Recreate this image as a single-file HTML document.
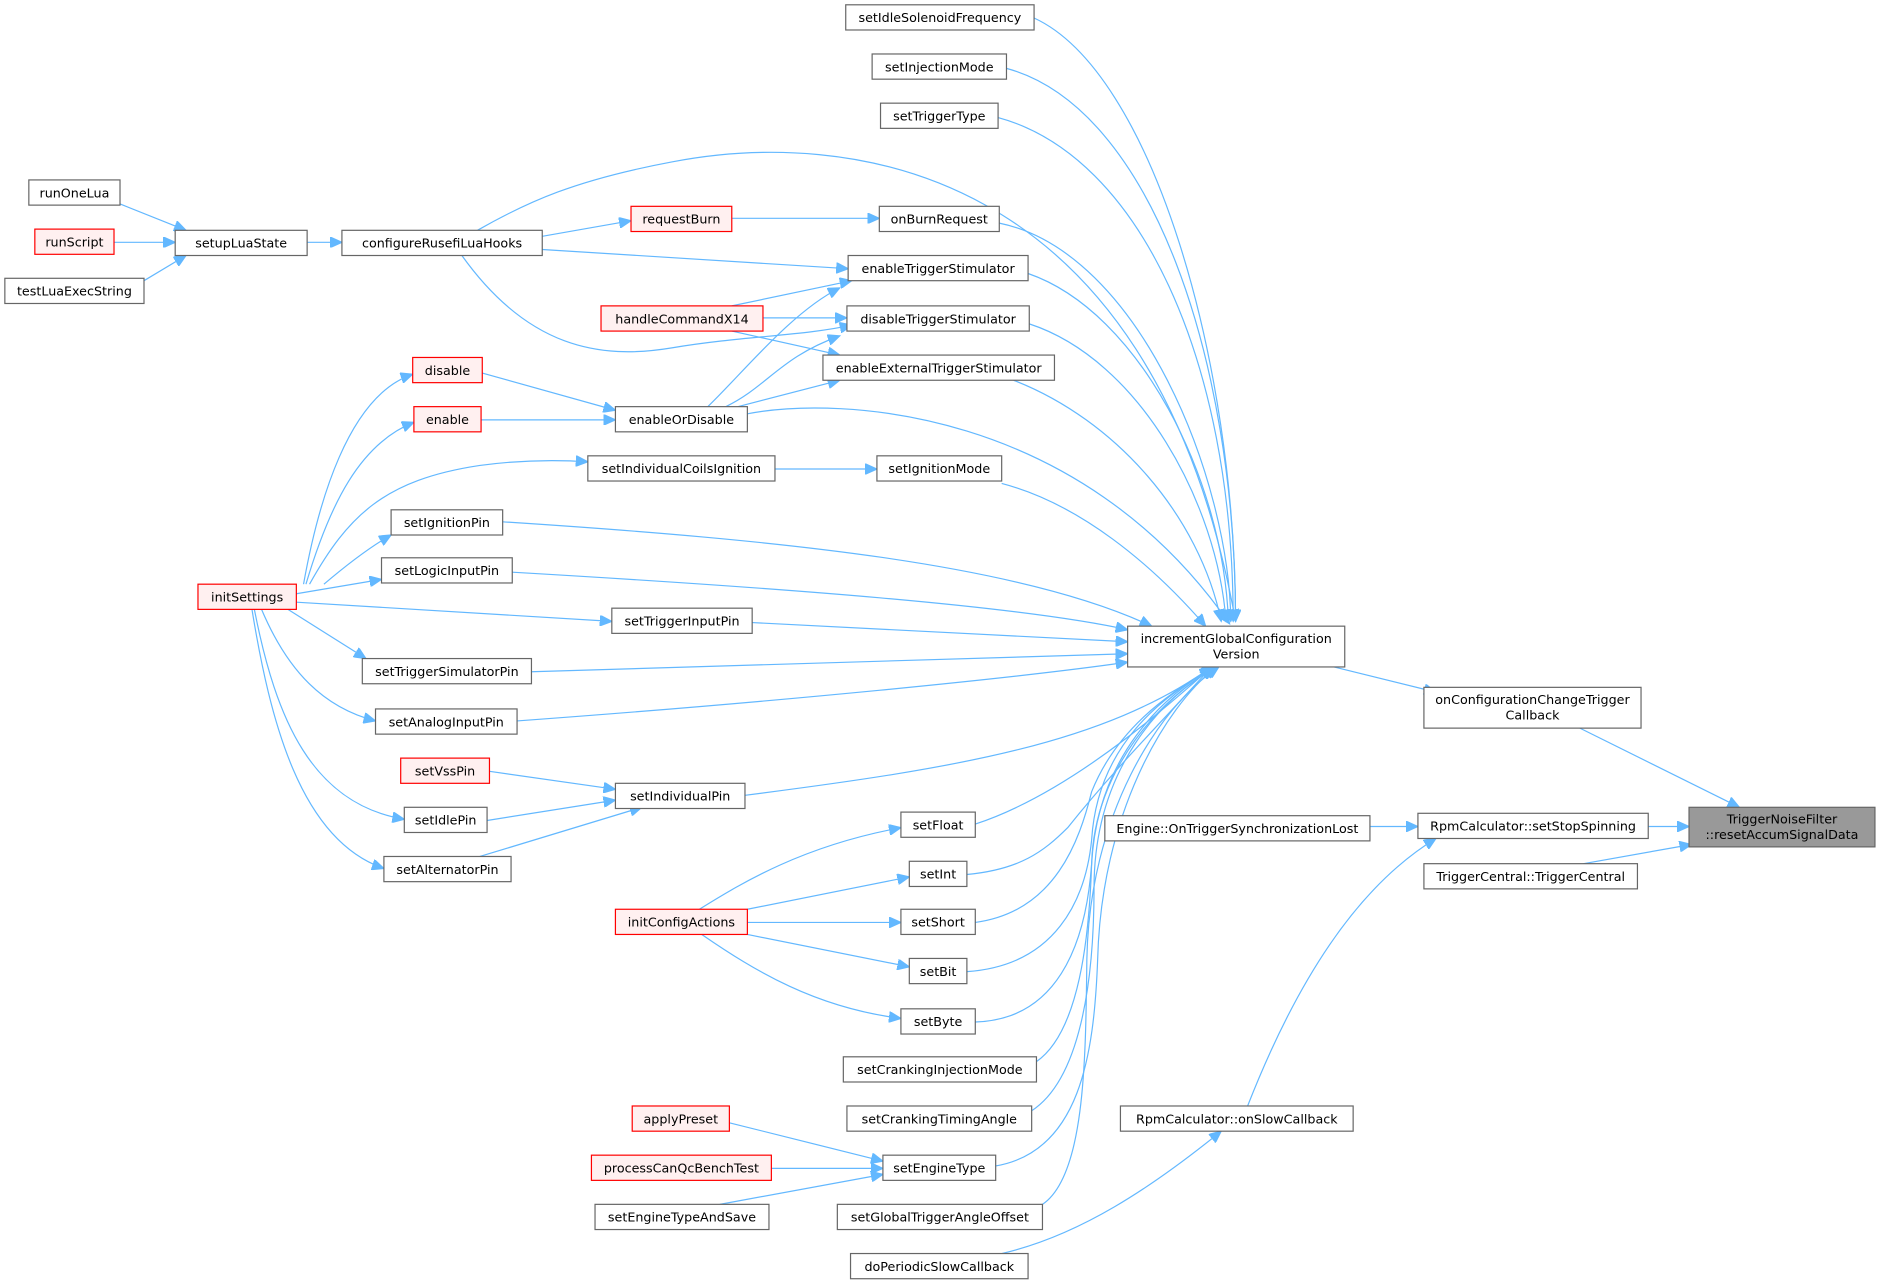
<!DOCTYPE html>
<html><head><meta charset="utf-8"><style>
html,body{margin:0;padding:0;background:#fff;}
svg{display:block}
text{font-family:"DejaVu Sans","Liberation Sans",sans-serif;font-size:10.6px;fill:#000;}
.n{fill:#fff;stroke:#666;stroke-width:1}
.r{fill:#fff0f0;stroke:#f00;stroke-width:1}
.g{fill:#999;stroke:#666;stroke-width:1}
.e{fill:none;stroke:#63b8ff;stroke-width:1}
</style></head><body>
<svg width="1881" height="1287" viewBox="0 0 1568 1072.9" xmlns="http://www.w3.org/2000/svg">
<defs><marker id="a" markerUnits="userSpaceOnUse" markerWidth="11" markerHeight="9" refX="10" refY="4.5" orient="auto"><path d="M0,0 L10,4.5 L0,9 Z" fill="#63b8ff" stroke="#63b8ff"/></marker></defs>
<g class="edges">
<path class="e" marker-end="url(#a)" d="M100,170 L155,192"/>
<path class="e" marker-end="url(#a)" d="M95,202 L146,202"/>
<path class="e" marker-end="url(#a)" d="M120,234 L155,213"/>
<path class="e" marker-end="url(#a)" d="M256,202 L285,202"/>
<path class="e" marker-end="url(#a)" d="M452,197 L526,184"/>
<path class="e" marker-end="url(#a)" d="M452,208 L707,224"/>
<path class="e" marker-end="url(#a)" d="M398,192 C440,168 480,150 560,135 C700,108 960,130 1030,518"/>
<path class="e" marker-end="url(#a)" d="M385,213 C440,290 500,300 560,290 C620,280 670,280 710,271"/>
<path class="e" marker-end="url(#a)" d="M610,182 L733,182"/>
<path class="e" marker-end="url(#a)" d="M610,255 L710,234"/>
<path class="e" marker-end="url(#a)" d="M636,265 L706,265"/>
<path class="e" marker-end="url(#a)" d="M610,276 L700,296"/>
<path class="e" marker-end="url(#a)" d="M590,339 C620,310 660,260 700,240"/>
<path class="e" marker-end="url(#a)" d="M605,339 C640,322 650,298 700,280"/>
<path class="e" marker-end="url(#a)" d="M615,339 L700,317"/>
<path class="e" marker-end="url(#a)" d="M623,345 C700,330 900,340 1025,520"/>
<path class="e" marker-end="url(#a)" d="M402,311 L513,342"/>
<path class="e" marker-end="url(#a)" d="M401,350 L513,350"/>
<path class="e" marker-end="url(#a)" d="M253,487 C265,420 290,330 344,312"/>
<path class="e" marker-end="url(#a)" d="M255,487 C275,420 300,370 345,352"/>
<path class="e" marker-end="url(#a)" d="M258,487 C290,430 320,400 400,388 C430,384 460,383 490,385"/>
<path class="e" marker-end="url(#a)" d="M270,487 C290,470 310,455 326,446"/>
<path class="e" marker-end="url(#a)" d="M247,495 L318,483"/>
<path class="e" marker-end="url(#a)" d="M247,502 L510,518"/>
<path class="e" marker-end="url(#a)" d="M240,508 L305,549"/>
<path class="e" marker-end="url(#a)" d="M218,508 C240,560 270,590 313,601"/>
<path class="e" marker-end="url(#a)" d="M212,508 C230,600 260,670 337,683"/>
<path class="e" marker-end="url(#a)" d="M210,508 C225,600 250,700 320,724"/>
<path class="e" marker-end="url(#a)" d="M646,391 L731,391"/>
<path class="e" marker-end="url(#a)" d="M408,643 L513,658"/>
<path class="e" marker-end="url(#a)" d="M406,684 L513,667"/>
<path class="e" marker-end="url(#a)" d="M400,714 L535,673"/>
<path class="e" marker-end="url(#a)" d="M862,15 C960,60 1030,300 1030,518"/>
<path class="e" marker-end="url(#a)" d="M839,57 C960,90 1030,300 1030,518"/>
<path class="e" marker-end="url(#a)" d="M832,98 C950,130 1028,300 1028,518"/>
<path class="e" marker-end="url(#a)" d="M833,186 C950,210 1025,400 1026,518"/>
<path class="e" marker-end="url(#a)" d="M857,228 C950,260 1020,400 1024,518"/>
<path class="e" marker-end="url(#a)" d="M858,270 C950,300 1015,420 1022,518"/>
<path class="e" marker-end="url(#a)" d="M845,317 C930,350 1000,430 1018,518"/>
<path class="e" marker-end="url(#a)" d="M835,403 C900,420 960,470 1005,522"/>
<path class="e" marker-end="url(#a)" d="M419,435 C650,450 850,470 960,522"/>
<path class="e" marker-end="url(#a)" d="M427,477 C650,490 850,505 940,525"/>
<path class="e" marker-end="url(#a)" d="M627,519 L940,535"/>
<path class="e" marker-end="url(#a)" d="M443,560 L940,545"/>
<path class="e" marker-end="url(#a)" d="M431,601 C650,585 850,565 940,552"/>
<path class="e" marker-end="url(#a)" d="M621,663 C800,640 920,620 1010,556"/>
<path class="e" marker-end="url(#a)" d="M813,687 C880,665 950,610 1010,556"/>
<path class="e" marker-end="url(#a)" d="M806,729 C850,725 870,710 890,690 C930,640 970,600 1010,556"/>
<path class="e" marker-end="url(#a)" d="M813,769 C880,760 900,700 910,660 C930,610 970,580 1012,556"/>
<path class="e" marker-end="url(#a)" d="M806,810 C880,805 905,750 910,700 C915,620 970,580 1012,556"/>
<path class="e" marker-end="url(#a)" d="M813,852 C880,850 905,790 910,720 C915,630 970,580 1012,556"/>
<path class="e" marker-end="url(#a)" d="M864,885 C900,860 908,780 910,720 C912,640 970,580 1014,556"/>
<path class="e" marker-end="url(#a)" d="M860,926 C900,900 912,820 912,740 C912,640 970,580 1014,556"/>
<path class="e" marker-end="url(#a)" d="M830,972 C900,960 912,880 915,800 C918,680 970,590 1014,556"/>
<path class="e" marker-end="url(#a)" d="M869,1004 C905,980 905,880 906,800 C908,680 965,590 1016,556"/>
<path class="e" marker-end="url(#a)" d="M703,1017 C650,1010 640,1010 623,779" style="display:none"/>
<path class="e" marker-end="url(#a)" d="M583,758 C620,735 670,705 751,690"/>
<path class="e" marker-end="url(#a)" d="M623,758 L758,731"/>
<path class="e" marker-end="url(#a)" d="M623,769 L751,769"/>
<path class="e" marker-end="url(#a)" d="M623,779 L758,806"/>
<path class="e" marker-end="url(#a)" d="M585,779 C630,810 680,840 751,849"/>
<path class="e" marker-end="url(#a)" d="M608,936 L736,968"/>
<path class="e" marker-end="url(#a)" d="M643,974 L736,974"/>
<path class="e" marker-end="url(#a)" d="M600,1004 L736,979"/>
<path class="e" marker-end="url(#a)" d="M1112,556 L1197,577"/>
<path class="e" marker-end="url(#a)" d="M1317,607 L1450,673"/>
<path class="e" marker-end="url(#a)" d="M1142,689 L1182,689"/>
<path class="e" marker-end="url(#a)" d="M1374,689 L1408,689"/>
<path class="e" marker-end="url(#a)" d="M1320,720 L1410,704"/>
<path class="e" marker-end="url(#a)" d="M1040,922 C1080,820 1130,740 1197,699"/>
<path class="e" marker-end="url(#a)" d="M835,1045 C900,1030 960,990 1018,943"/>
</g>
<g>
<rect class="n" x="705" y="4" width="157" height="21"/><text x="783.5" y="18.5" text-anchor="middle">setIdleSolenoidFrequency</text>
<rect class="n" x="727" y="45" width="112" height="21"/><text x="783" y="59.5" text-anchor="middle">setInjectionMode</text>
<rect class="n" x="734" y="86" width="98" height="21"/><text x="783" y="100.5" text-anchor="middle">setTriggerType</text>
<rect class="n" x="24" y="150" width="76" height="21"/><text x="62" y="164.5" text-anchor="middle">runOneLua</text>
<rect class="r" x="29" y="191" width="66" height="21"/><text x="62" y="205.5" text-anchor="middle">runScript</text>
<rect class="n" x="146" y="192" width="110" height="21"/><text x="201" y="206.5" text-anchor="middle">setupLuaState</text>
<rect class="n" x="4" y="232" width="116" height="21"/><text x="62" y="246.5" text-anchor="middle">testLuaExecString</text>
<rect class="n" x="285" y="192" width="167" height="21"/><text x="368.5" y="206.5" text-anchor="middle">configureRusefiLuaHooks</text>
<rect class="r" x="526" y="172" width="84" height="21"/><text x="568" y="186.5" text-anchor="middle">requestBurn</text>
<rect class="n" x="733" y="172" width="100" height="21"/><text x="783" y="186.5" text-anchor="middle">onBurnRequest</text>
<rect class="n" x="707" y="213" width="150" height="21"/><text x="782" y="227.5" text-anchor="middle">enableTriggerStimulator</text>
<rect class="r" x="501" y="255" width="135" height="21"/><text x="568.5" y="269.5" text-anchor="middle">handleCommandX14</text>
<rect class="n" x="706" y="255" width="152" height="21"/><text x="782" y="269.5" text-anchor="middle">disableTriggerStimulator</text>
<rect class="n" x="686" y="296" width="193" height="21"/><text x="782.5" y="310.5" text-anchor="middle">enableExternalTriggerStimulator</text>
<rect class="r" x="344" y="298" width="58" height="21"/><text x="373" y="312.5" text-anchor="middle">disable</text>
<rect class="r" x="345" y="339" width="56" height="21"/><text x="373" y="353.5" text-anchor="middle">enable</text>
<rect class="n" x="513" y="339" width="110" height="21"/><text x="568" y="353.5" text-anchor="middle">enableOrDisable</text>
<rect class="n" x="490" y="380" width="156" height="21"/><text x="568" y="394.5" text-anchor="middle">setIndividualCoilsIgnition</text>
<rect class="n" x="731" y="380" width="104" height="21"/><text x="783" y="394.5" text-anchor="middle">setIgnitionMode</text>
<rect class="n" x="326" y="425" width="93" height="21"/><text x="372.5" y="439.5" text-anchor="middle">setIgnitionPin</text>
<rect class="n" x="318" y="465" width="109" height="21"/><text x="372.5" y="479.5" text-anchor="middle">setLogicInputPin</text>
<rect class="r" x="165" y="487" width="82" height="21"/><text x="206" y="501.5" text-anchor="middle">initSettings</text>
<rect class="n" x="510" y="507" width="117" height="21"/><text x="568.5" y="521.5" text-anchor="middle">setTriggerInputPin</text>
<rect class="n" x="940" y="522" width="181" height="34"/><text x="1030.5" y="536" text-anchor="middle">incrementGlobalConfiguration</text><text x="1030.5" y="549" text-anchor="middle">Version</text>
<rect class="n" x="302" y="549" width="141" height="21"/><text x="372.5" y="563.5" text-anchor="middle">setTriggerSimulatorPin</text>
<rect class="n" x="313" y="591" width="118" height="21"/><text x="372" y="605.5" text-anchor="middle">setAnalogInputPin</text>
<rect class="n" x="1187" y="573" width="181" height="34"/><text x="1277.5" y="587" text-anchor="middle">onConfigurationChangeTrigger</text><text x="1277.5" y="600" text-anchor="middle">Callback</text>
<rect class="r" x="334" y="632" width="74" height="21"/><text x="371" y="646.5" text-anchor="middle">setVssPin</text>
<rect class="n" x="513" y="653" width="108" height="21"/><text x="567" y="667.5" text-anchor="middle">setIndividualPin</text>
<rect class="n" x="337" y="673" width="69" height="21"/><text x="371.5" y="687.5" text-anchor="middle">setIdlePin</text>
<rect class="n" x="921" y="680" width="221" height="21"/><text x="1031.5" y="694.5" text-anchor="middle">Engine::OnTriggerSynchronizationLost</text>
<rect class="n" x="1182" y="678" width="192" height="21"/><text x="1278" y="692.5" text-anchor="middle">RpmCalculator::setStopSpinning</text>
<rect class="g" x="1408" y="673" width="155" height="33"/><text x="1485.5" y="686.5" text-anchor="middle">TriggerNoiseFilter</text><text x="1485.5" y="699.5" text-anchor="middle">::resetAccumSignalData</text>
<rect class="n" x="751" y="677" width="62" height="21"/><text x="782" y="691.5" text-anchor="middle">setFloat</text>
<rect class="n" x="320" y="714" width="106" height="21"/><text x="373" y="728.5" text-anchor="middle">setAlternatorPin</text>
<rect class="n" x="1187" y="720" width="178" height="21"/><text x="1276" y="734.5" text-anchor="middle">TriggerCentral::TriggerCentral</text>
<rect class="n" x="758" y="718" width="48" height="21"/><text x="782" y="732.5" text-anchor="middle">setInt</text>
<rect class="r" x="513" y="758" width="110" height="21"/><text x="568" y="772.5" text-anchor="middle">initConfigActions</text>
<rect class="n" x="751" y="758" width="62" height="21"/><text x="782" y="772.5" text-anchor="middle">setShort</text>
<rect class="n" x="758" y="799" width="48" height="21"/><text x="782" y="813.5" text-anchor="middle">setBit</text>
<rect class="n" x="751" y="841" width="62" height="21"/><text x="782" y="855.5" text-anchor="middle">setByte</text>
<rect class="n" x="703" y="881" width="161" height="21"/><text x="783.5" y="895.5" text-anchor="middle">setCrankingInjectionMode</text>
<rect class="n" x="706" y="922" width="154" height="21"/><text x="783" y="936.5" text-anchor="middle">setCrankingTimingAngle</text>
<rect class="n" x="934" y="922" width="194" height="21"/><text x="1031" y="936.5" text-anchor="middle">RpmCalculator::onSlowCallback</text>
<rect class="r" x="527" y="922" width="81" height="21"/><text x="567.5" y="936.5" text-anchor="middle">applyPreset</text>
<rect class="r" x="493" y="963" width="150" height="21"/><text x="568" y="977.5" text-anchor="middle">processCanQcBenchTest</text>
<rect class="n" x="736" y="963" width="94" height="21"/><text x="783" y="977.5" text-anchor="middle">setEngineType</text>
<rect class="n" x="496" y="1004" width="145" height="21"/><text x="568.5" y="1018.5" text-anchor="middle">setEngineTypeAndSave</text>
<rect class="n" x="698" y="1004" width="171" height="21"/><text x="783.5" y="1018.5" text-anchor="middle">setGlobalTriggerAngleOffset</text>
<rect class="n" x="709" y="1045" width="148" height="21"/><text x="783" y="1059.5" text-anchor="middle">doPeriodicSlowCallback</text>
</g>
</svg>
</body></html>
